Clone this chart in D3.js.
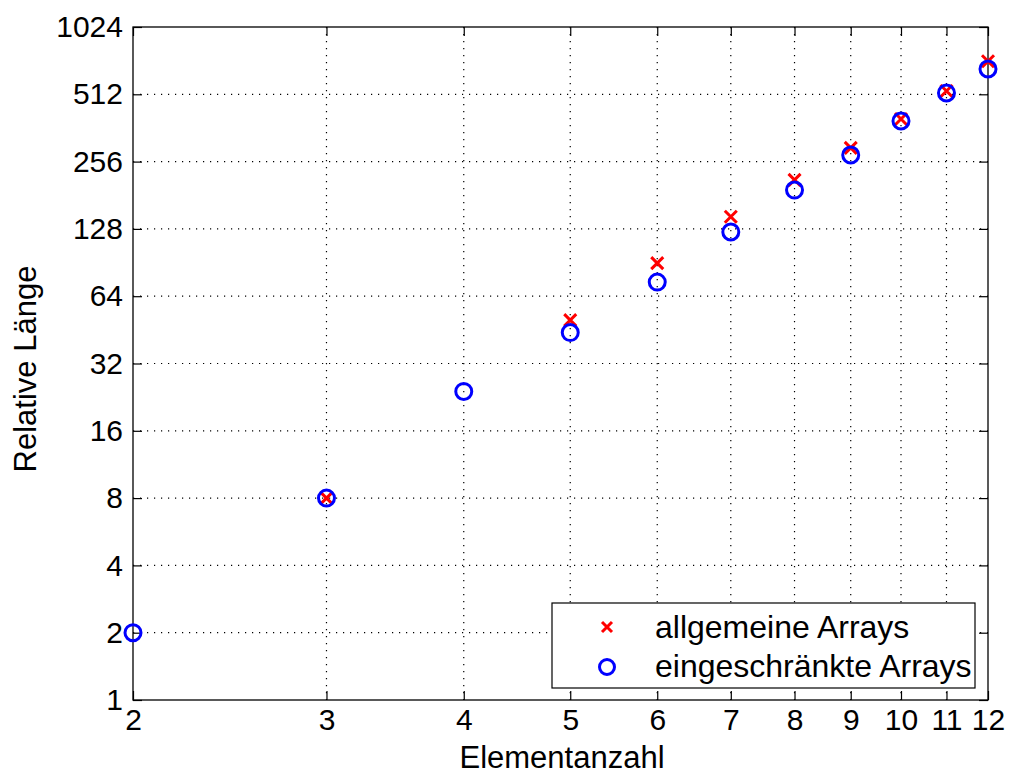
<!DOCTYPE html>
<html lang="de">
<head>
<meta charset="UTF-8">
<title>Relative Länge</title>
<script src="https://d3js.org/d3.v7.min.js"></script>
<style>
  body { margin: 0; background: #fff; }
  text { font-family: "Liberation Sans", Arial, sans-serif; fill: #000; }
</style>
</head>
<body>
<div id="chart"></div>
<script>
// data
const xTicks = [2, 3, 4, 5, 6, 7, 8, 9, 10, 11, 12];
const yTicks = [1, 2, 4, 8, 16, 32, 64, 128, 256, 512, 1024];
const allgX = [3, 5, 6, 7, 8, 9, 10, 11, 12];
const allgY = [8, 50, 90, 145, 212, 295, 397, 530, 720];
const einX = [2, 3, 4, 5, 6, 7, 8, 9, 10, 11, 12];
const einY = [2, 8, 24, 44, 74, 124, 191, 274, 389, 519, 665];
const seriesNames = ["allgemeine Arrays", "eingeschränkte Arrays"];

const W = 1009, H = 776;
const m = {left: 133, right: 21, top: 27, bottom: 76};
const iw = W - m.left - m.right, ih = H - m.top - m.bottom;
const tickFont = 30, titleFont = 31, legendFont = 32;

const svg = d3.select("#chart").append("svg").attr("width", W).attr("height", H);
const g = svg.append("g").attr("transform", `translate(${m.left},${m.top})`);

const x = d3.scaleLog().base(2).domain([2, 12]).range([0, iw]);
const y = d3.scaleLog().base(2).domain([1, 1024]).range([ih, 0]);

// grid
g.append("g").selectAll("line").data(xTicks.slice(1, -1)).join("line")
  .attr("x1", d => x(d)).attr("x2", d => x(d)).attr("y1", 0).attr("y2", ih)
  .attr("stroke", "#000").attr("stroke-width", 1.2).attr("stroke-dasharray", "1.2,5.8");
g.append("g").selectAll("line").data(yTicks.slice(1, -1)).join("line")
  .attr("y1", d => y(d)).attr("y2", d => y(d)).attr("x1", 0).attr("x2", iw)
  .attr("stroke", "#000").attr("stroke-width", 1.2).attr("stroke-dasharray", "1.2,5.8");

// axes, ticks inward on all sides
const tl = 9;
const xb = g.append("g").attr("transform", `translate(0,${ih})`)
  .call(d3.axisBottom(x).tickValues(xTicks).tickFormat(d3.format("d")).tickSizeInner(-tl).tickSizeOuter(0).tickPadding(9));
const xt = g.append("g")
  .call(d3.axisTop(x).tickValues(xTicks).tickFormat("").tickSizeInner(-tl).tickSizeOuter(0));
const yl = g.append("g")
  .call(d3.axisLeft(y).tickValues(yTicks).tickFormat(d3.format("d")).tickSizeInner(-tl).tickSizeOuter(0).tickPadding(10));
const yr = g.append("g").attr("transform", `translate(${iw},0)`)
  .call(d3.axisRight(y).tickValues(yTicks).tickFormat("").tickSizeInner(-tl).tickSizeOuter(0));
[xb, xt, yl, yr].forEach(a => {
  a.selectAll("path, line").attr("stroke", "#000").attr("stroke-width", 1.2);
  a.selectAll("text").attr("font-size", tickFont).attr("font-family", "Liberation Sans, Arial, sans-serif").attr("fill", "#000");
});
xb.select(".domain").remove(); xt.select(".domain").remove();
yl.select(".domain").remove(); yr.select(".domain").remove();
g.append("rect").attr("width", iw).attr("height", ih)
  .attr("fill", "none").attr("stroke", "#000").attr("stroke-width", 1.3);

// axis titles
svg.append("text").attr("x", 562).attr("y", 768)
  .attr("text-anchor", "middle").attr("font-size", titleFont).text("Elementanzahl");
svg.append("text").attr("transform", `translate(36,369) rotate(-90)`)
  .attr("text-anchor", "middle").attr("font-size", titleFont).text("Relative Länge");

// markers
function cross(sel, cx, cy, s) {
  sel.append("path")
    .attr("d", `M${cx - s},${cy - s}L${cx + s},${cy + s}M${cx - s},${cy + s}L${cx + s},${cy - s}`)
    .attr("stroke", "#ff0000").attr("stroke-width", 3).attr("fill", "none");
}
const crossG = g.append("g");
allgX.forEach((d, i) => cross(crossG, x(d), y(allgY[i]), 6));
g.append("g").selectAll("circle").data(einX).join("circle")
  .attr("cx", d => x(d)).attr("cy", (d, i) => y(einY[i])).attr("r", 8)
  .attr("fill", "none").attr("stroke", "#0000ff").attr("stroke-width", 3);

// legend
const lg = svg.append("g").attr("transform", "translate(552,603)");
lg.append("rect").attr("width", 423).attr("height", 85)
  .attr("fill", "#fff").attr("stroke", "#000").attr("stroke-width", 1.2);
cross(lg, 55, 24, 5);
lg.append("circle").attr("cx", 55).attr("cy", 64).attr("r", 7.5)
  .attr("fill", "none").attr("stroke", "#0000ff").attr("stroke-width", 3);
lg.selectAll("text.l").data(seriesNames).join("text").attr("class", "l")
  .attr("x", 103).attr("y", (d, i) => 35 + i * 39).attr("font-size", legendFont).text(d => d);
</script>
</body>
</html>
